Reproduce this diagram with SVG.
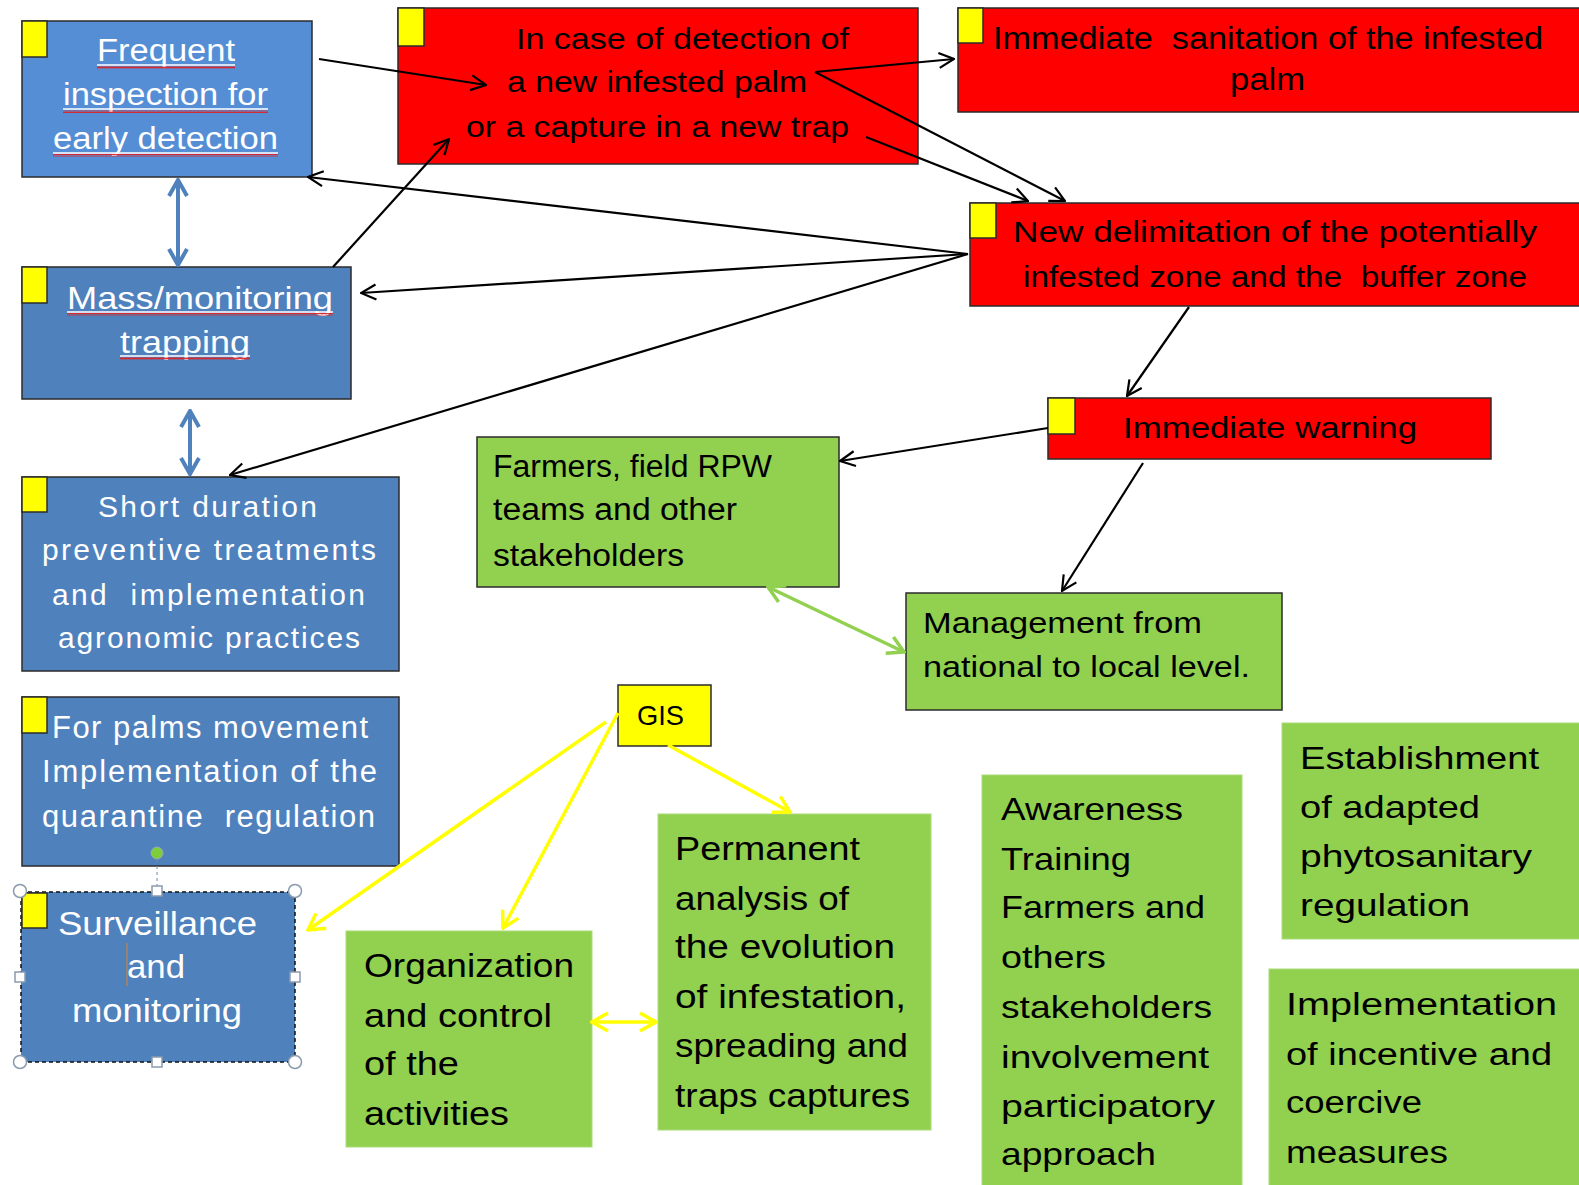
<svg xmlns="http://www.w3.org/2000/svg" width="1579" height="1185" viewBox="0 0 1579 1185">
<style>
  text { font-family: "Liberation Sans", Arial, sans-serif; white-space: pre; }
  .wt { fill: #ffffff; }
  .bk { fill: #000000; }
  .blue { fill: #4F81BD; stroke: #2b2b2b; stroke-width: 1.5; }
  .blueL { fill: #558ED5; stroke: #2b2b2b; stroke-width: 1.5; }
  .red { fill: #FF0000; stroke: #2b2b2b; stroke-width: 1.5; }
  .grn { fill: #92D050; stroke: #2b2b2b; stroke-width: 1.5; }
  .grnN { fill: #92D050; stroke: #a9dc78; stroke-width: 1; }
  .yel { fill: #FFFF00; stroke: #2b2b2b; stroke-width: 1.5; }
  .ul { stroke: #ffffff; stroke-width: 1.5; }
  .k { fill: none; stroke: #000; stroke-width: 2.2; marker-end: url(#ak); }
  .b2 { fill: none; stroke: #4F81BD; stroke-width: 4; marker-start: url(#abl); marker-end: url(#abl); }
  .y1 { fill: none; stroke: #FFFF00; stroke-width: 3.5; marker-end: url(#ay); }
  .y2 { fill: none; stroke: #FFFF00; stroke-width: 3.5; marker-start: url(#ay); marker-end: url(#ay); }
  .g2 { fill: none; stroke: #92D050; stroke-width: 3.5; marker-start: url(#ag); marker-end: url(#ag); }
  .hc { fill: #ffffff; stroke: #8a9aad; stroke-width: 1.5; }
</style>
<defs>
  <marker id="ak" viewBox="0 0 18 18" refX="17" refY="9" markerWidth="18" markerHeight="18" markerUnits="userSpaceOnUse" orient="auto-start-reverse">
    <path d="M2,1.5 L17,9 L2,16.5" fill="none" stroke="#000" stroke-width="2.2"/>
  </marker>
  <marker id="abl" viewBox="0 0 22 22" refX="20" refY="11" markerWidth="22" markerHeight="22" markerUnits="userSpaceOnUse" orient="auto-start-reverse">
    <path d="M4,2 L20,11 L4,20" fill="none" stroke="#4F81BD" stroke-width="4"/>
  </marker>
  <marker id="ay" viewBox="0 0 22 22" refX="20" refY="11" markerWidth="22" markerHeight="22" markerUnits="userSpaceOnUse" orient="auto-start-reverse">
    <path d="M4,2 L20,11 L4,20" fill="none" stroke="#FFFF00" stroke-width="3.5"/>
  </marker>
  <marker id="ag" viewBox="0 0 22 22" refX="20" refY="11" markerWidth="22" markerHeight="22" markerUnits="userSpaceOnUse" orient="auto-start-reverse">
    <path d="M4,2 L20,11 L4,20" fill="none" stroke="#92D050" stroke-width="3.5"/>
  </marker>
  <pattern id="wavy" width="4" height="3" patternUnits="userSpaceOnUse">
    <path d="M0,2.5 L1,0.5 L2,2.5 L3,0.5 L4,2.5" fill="none" stroke="#e02020" stroke-width="0.9"/>
  </pattern>
</defs>
<rect width="1579" height="1185" fill="#ffffff"/>

<g id="frequent">
  <rect class="blueL" x="22" y="21" width="290" height="156"/>
  <rect class="yel" x="22" y="21" width="25" height="36"/>
  <text class="wt" font-size="31" x="97" y="61" textLength="138" lengthAdjust="spacingAndGlyphs">Frequent</text>
  <text class="wt" font-size="31" x="63" y="105" textLength="205" lengthAdjust="spacingAndGlyphs">inspection for</text>
  <text class="wt" font-size="31" x="53" y="149" textLength="225" lengthAdjust="spacingAndGlyphs">early detection</text>
  <line class="ul" x1="97" y1="65" x2="235" y2="65"/>
  <line class="ul" x1="63" y1="109" x2="268" y2="109"/>
  <line class="ul" x1="53" y1="153" x2="278" y2="153"/>
  <rect x="97" y="66" width="138" height="3" fill="url(#wavy)"/>
  <rect x="63" y="110" width="205" height="3" fill="url(#wavy)"/>
  <rect x="53" y="154" width="225" height="3" fill="url(#wavy)"/>
</g>

<g id="mass">
  <rect class="blue" x="22" y="267" width="329" height="132"/>
  <rect class="yel" x="22" y="267" width="25" height="36"/>
  <text class="wt" font-size="32" x="67" y="309" textLength="266" lengthAdjust="spacingAndGlyphs">Mass/monitoring</text>
  <text class="wt" font-size="32" x="120" y="353" textLength="130" lengthAdjust="spacingAndGlyphs">trapping</text>
  <line class="ul" x1="67" y1="312" x2="333" y2="312"/>
  <line class="ul" x1="120" y1="356" x2="250" y2="356"/>
  <rect x="67" y="313" width="266" height="3" fill="url(#wavy)"/>
  <rect x="120" y="357" width="130" height="3" fill="url(#wavy)"/>
</g>

<g id="short">
  <rect class="blue" x="22" y="477" width="377" height="194"/>
  <rect class="yel" x="22" y="477" width="25" height="35"/>
  <text class="wt" font-size="30" x="98" y="517" textLength="219" lengthAdjust="spacing">Short duration</text>
  <text class="wt" font-size="30" x="42" y="560" textLength="334" lengthAdjust="spacing">preventive treatments</text>
  <text class="wt" font-size="30" x="52" y="605" textLength="313" lengthAdjust="spacing">and  implementation</text>
  <text class="wt" font-size="30" x="58" y="648" textLength="302" lengthAdjust="spacing">agronomic practices</text>
</g>

<g id="palms">
  <rect class="blue" x="22" y="697" width="377" height="169"/>
  <rect class="yel" x="22" y="697" width="25" height="36"/>
  <text class="wt" font-size="31" x="52" y="738" textLength="316" lengthAdjust="spacing">For palms movement</text>
  <text class="wt" font-size="31" x="42" y="782" textLength="335" lengthAdjust="spacing">Implementation of the</text>
  <text class="wt" font-size="31" x="42" y="827" textLength="333" lengthAdjust="spacing">quarantine  regulation</text>
</g>

<g id="surveillance">
  <rect x="21" y="892" width="274" height="170" fill="#4F81BD" stroke="#111" stroke-width="1.5" stroke-dasharray="4,3"/>
  <rect class="yel" x="22" y="893" width="25" height="35"/>
  <text class="wt" font-size="34" x="58" y="935" textLength="199" lengthAdjust="spacingAndGlyphs">Surveillance</text>
  <text class="wt" font-size="34" x="127" y="978" textLength="58" lengthAdjust="spacingAndGlyphs">and</text>
  <text class="wt" font-size="34" x="72" y="1022" textLength="170" lengthAdjust="spacingAndGlyphs">monitoring</text>
  <line x1="127" y1="943" x2="127" y2="986" stroke="#c8843c" stroke-width="1.2"/>
  <line x1="157" y1="860" x2="157" y2="886" stroke="#6f8aa8" stroke-width="1" stroke-dasharray="3,3"/>
  <circle cx="157" cy="853" r="6" fill="#7ccf3a" stroke="#9aa8b4" stroke-width="1"/>
  <circle class="hc" cx="20" cy="891" r="6.5"/>
  <circle class="hc" cx="295" cy="891" r="6.5"/>
  <circle class="hc" cx="20" cy="1062" r="6.5"/>
  <circle class="hc" cx="295" cy="1062" r="6.5"/>
  <rect class="hc" x="152" y="886" width="10" height="10"/>
  <rect class="hc" x="152" y="1057" width="10" height="10"/>
  <rect class="hc" x="15" y="972" width="10" height="10"/>
  <rect class="hc" x="290" y="972" width="10" height="10"/>
</g>

<g id="detection">
  <rect class="red" x="398" y="8" width="520" height="156"/>
  <rect class="yel" x="398" y="8" width="26" height="38"/>
  <text class="bk" font-size="30" x="516" y="49" textLength="333" lengthAdjust="spacingAndGlyphs">In case of detection of</text>
  <text class="bk" font-size="30" x="507" y="92" textLength="300" lengthAdjust="spacingAndGlyphs">a new infested palm</text>
  <text class="bk" font-size="30" x="466" y="137" textLength="383" lengthAdjust="spacingAndGlyphs">or a capture in a new trap</text>
</g>

<g id="sanitation">
  <rect class="red" x="958" y="8" width="625" height="104"/>
  <rect class="yel" x="958" y="8" width="25" height="35"/>
  <text class="bk" font-size="31" x="993" y="49" textLength="550" lengthAdjust="spacingAndGlyphs">Immediate  sanitation of the infested</text>
  <text class="bk" font-size="31" x="1230" y="90" textLength="75" lengthAdjust="spacingAndGlyphs">palm</text>
</g>

<g id="delimitation">
  <rect class="red" x="970" y="203" width="613" height="103"/>
  <rect class="yel" x="970" y="203" width="26" height="35"/>
  <text class="bk" font-size="29" x="1013" y="242" textLength="524" lengthAdjust="spacingAndGlyphs">New delimitation of the potentially</text>
  <text class="bk" font-size="29" x="1023" y="287" textLength="504" lengthAdjust="spacingAndGlyphs">infested zone and the  buffer zone</text>
</g>

<g id="warning">
  <rect class="red" x="1048" y="398" width="443" height="61"/>
  <rect class="yel" x="1048" y="398" width="27" height="36"/>
  <text class="bk" font-size="29" x="1123" y="438" textLength="294" lengthAdjust="spacingAndGlyphs">Immediate warning</text>
</g>

<g id="farmers">
  <rect class="grn" x="477" y="437" width="362" height="150"/>
  <text class="bk" font-size="31" x="493" y="477" textLength="279" lengthAdjust="spacingAndGlyphs">Farmers, field RPW</text>
  <text class="bk" font-size="31" x="493" y="520" textLength="244" lengthAdjust="spacingAndGlyphs">teams and other</text>
  <text class="bk" font-size="31" x="493" y="566" textLength="191" lengthAdjust="spacingAndGlyphs">stakeholders</text>
</g>

<g id="management">
  <rect class="grn" x="906" y="593" width="376" height="117"/>
  <text class="bk" font-size="29" x="923" y="633" textLength="279" lengthAdjust="spacingAndGlyphs">Management from</text>
  <text class="bk" font-size="29" x="923" y="677" textLength="327" lengthAdjust="spacingAndGlyphs">national to local level.</text>
</g>

<g id="gis">
  <rect class="yel" x="618" y="685" width="93" height="61"/>
  <text class="bk" font-size="28" x="637" y="725" textLength="47" lengthAdjust="spacingAndGlyphs">GIS</text>
</g>

<g id="organization">
  <rect class="grnN" x="346" y="931" width="246" height="216"/>
  <text class="bk" font-size="33" x="364" y="977" textLength="210" lengthAdjust="spacingAndGlyphs">Organization</text>
  <text class="bk" font-size="33" x="364" y="1027" textLength="188" lengthAdjust="spacingAndGlyphs">and control</text>
  <text class="bk" font-size="33" x="364" y="1075" textLength="95" lengthAdjust="spacingAndGlyphs">of the</text>
  <text class="bk" font-size="33" x="364" y="1125" textLength="145" lengthAdjust="spacingAndGlyphs">activities</text>
</g>

<g id="permanent">
  <rect class="grnN" x="658" y="814" width="273" height="316"/>
  <text class="bk" font-size="33" x="675" y="860" textLength="185" lengthAdjust="spacingAndGlyphs">Permanent</text>
  <text class="bk" font-size="33" x="675" y="910" textLength="174" lengthAdjust="spacingAndGlyphs">analysis of</text>
  <text class="bk" font-size="33" x="675" y="958" textLength="220" lengthAdjust="spacingAndGlyphs">the evolution</text>
  <text class="bk" font-size="33" x="675" y="1008" textLength="231" lengthAdjust="spacingAndGlyphs">of infestation,</text>
  <text class="bk" font-size="33" x="675" y="1057" textLength="233" lengthAdjust="spacingAndGlyphs">spreading and</text>
  <text class="bk" font-size="33" x="675" y="1107" textLength="235" lengthAdjust="spacingAndGlyphs">traps captures</text>
</g>

<g id="awareness">
  <rect class="grnN" x="982" y="775" width="260" height="415"/>
  <text class="bk" font-size="32" x="1001" y="820" textLength="182" lengthAdjust="spacingAndGlyphs">Awareness</text>
  <text class="bk" font-size="32" x="1001" y="870" textLength="130" lengthAdjust="spacingAndGlyphs">Training</text>
  <text class="bk" font-size="32" x="1001" y="918" textLength="204" lengthAdjust="spacingAndGlyphs">Farmers and</text>
  <text class="bk" font-size="32" x="1001" y="968" textLength="105" lengthAdjust="spacingAndGlyphs">others</text>
  <text class="bk" font-size="32" x="1001" y="1018" textLength="211" lengthAdjust="spacingAndGlyphs">stakeholders</text>
  <text class="bk" font-size="32" x="1001" y="1068" textLength="208" lengthAdjust="spacingAndGlyphs">involvement</text>
  <text class="bk" font-size="32" x="1001" y="1117" textLength="214" lengthAdjust="spacingAndGlyphs">participatory</text>
  <text class="bk" font-size="32" x="1001" y="1165" textLength="155" lengthAdjust="spacingAndGlyphs">approach</text>
</g>

<g id="establishment">
  <rect class="grnN" x="1282" y="723" width="300" height="216"/>
  <text class="bk" font-size="32" x="1300" y="769" textLength="239" lengthAdjust="spacingAndGlyphs">Establishment</text>
  <text class="bk" font-size="32" x="1300" y="818" textLength="180" lengthAdjust="spacingAndGlyphs">of adapted</text>
  <text class="bk" font-size="32" x="1300" y="867" textLength="232" lengthAdjust="spacingAndGlyphs">phytosanitary</text>
  <text class="bk" font-size="32" x="1300" y="916" textLength="170" lengthAdjust="spacingAndGlyphs">regulation</text>
</g>

<g id="incentive">
  <rect class="grnN" x="1269" y="969" width="315" height="221"/>
  <text class="bk" font-size="31" x="1286" y="1015" textLength="271" lengthAdjust="spacingAndGlyphs">Implementation</text>
  <text class="bk" font-size="31" x="1286" y="1065" textLength="266" lengthAdjust="spacingAndGlyphs">of incentive and</text>
  <text class="bk" font-size="31" x="1286" y="1113" textLength="136" lengthAdjust="spacingAndGlyphs">coercive</text>
  <text class="bk" font-size="31" x="1286" y="1163" textLength="162" lengthAdjust="spacingAndGlyphs">measures</text>
</g>

<g id="connectors">
  <line class="k" x1="319" y1="59" x2="486" y2="85"/>
  <line class="k" x1="333" y1="267" x2="449" y2="139"/>
  <line class="k" x1="815" y1="72" x2="954" y2="59"/>
  <line class="k" x1="815" y1="72" x2="1065" y2="201"/>
  <line class="k" x1="866" y1="137" x2="1028" y2="201"/>
  <line class="k" x1="968" y1="254" x2="308" y2="177"/>
  <line class="k" x1="968" y1="254" x2="361" y2="293"/>
  <line class="k" x1="968" y1="254" x2="230" y2="475"/>
  <line class="k" x1="1189" y1="307" x2="1127" y2="396"/>
  <line class="k" x1="1048" y1="428" x2="840" y2="461"/>
  <line class="k" x1="1143" y1="463" x2="1062" y2="591"/>
  <line class="b2" x1="178" y1="180" x2="178" y2="265"/>
  <line class="b2" x1="190" y1="411" x2="190" y2="474"/>
  <line class="g2" x1="768" y1="587" x2="904" y2="652"/>
  <line class="y1" x1="618" y1="713" x2="503" y2="928"/>
  <line class="y1" x1="606" y1="722" x2="308" y2="930"/>
  <line class="y1" x1="668" y1="745" x2="790" y2="812"/>
  <line class="y2" x1="592" y1="1022" x2="656" y2="1022"/>
</g>
</svg>
